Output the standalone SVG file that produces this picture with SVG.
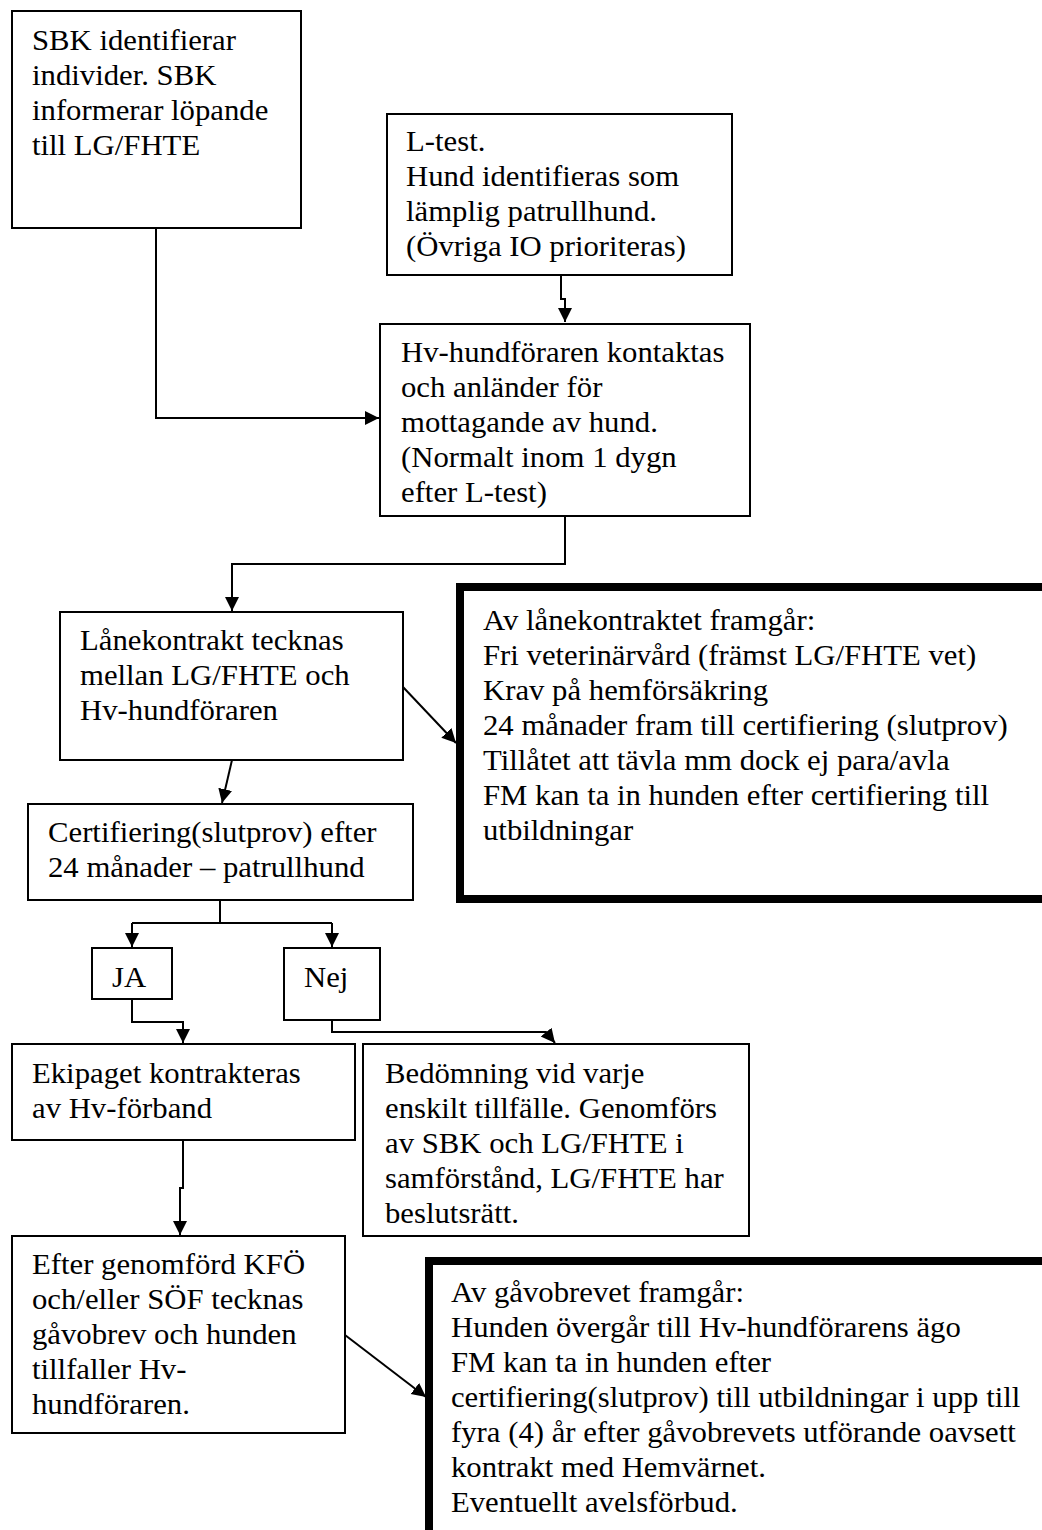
<svg xmlns="http://www.w3.org/2000/svg" width="1042" height="1530" viewBox="0 0 1042 1530">
<style>
  .box { fill: #ffffff; stroke: #000000; stroke-width: 2; }
  .thick { fill: #ffffff; stroke: #000000; stroke-width: 8; }
  .conn { fill: none; stroke: #000000; stroke-width: 2; }
  text { font-family: "Liberation Serif", "Times New Roman", serif; font-size: 29px; fill: #000000; }
</style>
<defs>
  <marker id="arr" markerUnits="userSpaceOnUse" markerWidth="15" markerHeight="15" refX="14" refY="7" orient="auto">
    <path d="M0,0 L14,7 L0,14 Z" fill="#000000"/>
  </marker>
</defs>
<rect width="1042" height="1530" fill="#ffffff"/>

<g id="connectors">
  <path class="conn" d="M156,228 V418 H379" marker-end="url(#arr)"/>
  <path class="conn" d="M561,275 V299 H565 V322" marker-end="url(#arr)"/>
  <path class="conn" d="M565,516 V564 H232 V611" marker-end="url(#arr)"/>
  <path class="conn" d="M403,687 L456,743" marker-end="url(#arr)"/>
  <path class="conn" d="M232,760 L222,803" marker-end="url(#arr)"/>
  <path class="conn" d="M220,900 V923"/>
  <path class="conn" d="M132,923 H332"/>
  <path class="conn" d="M132,923 V947" marker-end="url(#arr)"/>
  <path class="conn" d="M332,923 V947" marker-end="url(#arr)"/>
  <path class="conn" d="M132,999 V1022 H183 V1043" marker-end="url(#arr)"/>
  <path class="conn" d="M332,1020 V1032 H546 L555,1043" marker-end="url(#arr)"/>
  <path class="conn" d="M183,1140 V1188 H180 V1235" marker-end="url(#arr)"/>
  <path class="conn" d="M345,1335 L426,1397" marker-end="url(#arr)"/>
</g>

<g id="n1">
  <rect class="box" x="12" y="11" width="289" height="217"/>
  <g transform="scale(1.06 1)">
    <text x="30.19" y="50">SBK identifierar</text>
    <text x="30.19" y="85">individer. SBK</text>
    <text x="30.19" y="120">informerar löpande</text>
    <text x="30.19" y="155">till LG/FHTE</text>
  </g>
</g>

<g id="n2">
  <rect class="box" x="387" y="114" width="345" height="161"/>
  <g transform="scale(1.06 1)">
    <text x="383.02" y="151">L-test.</text>
    <text x="383.02" y="186">Hund identifieras som</text>
    <text x="383.02" y="221">lämplig patrullhund.</text>
    <text x="383.02" y="256">(Övriga IO prioriteras)</text>
  </g>
</g>

<g id="n3">
  <rect class="box" x="380" y="324" width="370" height="192"/>
  <g transform="scale(1.06 1)">
    <text x="378.3" y="362">Hv-hundföraren kontaktas</text>
    <text x="378.3" y="397">och anländer för</text>
    <text x="378.3" y="432">mottagande av hund.</text>
    <text x="378.3" y="467">(Normalt inom 1 dygn</text>
    <text x="378.3" y="502">efter L-test)</text>
  </g>
</g>

<g id="n4">
  <rect class="box" x="60" y="612" width="343" height="148"/>
  <g transform="scale(1.06 1)">
    <text x="75.47" y="650">Lånekontrakt tecknas</text>
    <text x="75.47" y="685">mellan LG/FHTE och</text>
    <text x="75.47" y="720">Hv-hundföraren</text>
  </g>
</g>

<g id="n10">
  <rect class="thick" x="460" y="587" width="600" height="312"/>
  <g transform="scale(1.06 1)">
    <text x="455.66" y="630">Av lånekontraktet framgår:</text>
    <text x="455.66" y="665">Fri veterinärvård (främst LG/FHTE vet)</text>
    <text x="455.66" y="700">Krav på hemförsäkring</text>
    <text x="455.66" y="735">24 månader fram till certifiering (slutprov)</text>
    <text x="455.66" y="770">Tillåtet att tävla mm dock ej para/avla</text>
    <text x="455.66" y="805">FM kan ta in hunden efter certifiering till</text>
    <text x="455.66" y="840">utbildningar</text>
  </g>
</g>

<g id="n5">
  <rect class="box" x="28" y="804" width="385" height="96"/>
  <g transform="scale(1.06 1)">
    <text x="45.28" y="842">Certifiering(slutprov) efter</text>
    <text x="45.28" y="877">24 månader – patrullhund</text>
  </g>
</g>

<g id="n-ja">
  <rect class="box" x="92" y="948" width="80" height="51"/>
  <g transform="scale(1.06 1)">
    <text x="105.66" y="987">JA</text>
  </g>
</g>

<g id="n-nej">
  <rect class="box" x="284" y="948" width="96" height="72"/>
  <g transform="scale(1.06 1)">
    <text x="286.79" y="987">Nej</text>
  </g>
</g>

<g id="n6">
  <rect class="box" x="12" y="1044" width="343" height="96"/>
  <g transform="scale(1.06 1)">
    <text x="30.19" y="1083">Ekipaget kontrakteras</text>
    <text x="30.19" y="1118">av Hv-förband</text>
  </g>
</g>

<g id="n7">
  <rect class="box" x="363" y="1044" width="386" height="192"/>
  <g transform="scale(1.06 1)">
    <text x="363.21" y="1083">Bedömning vid varje</text>
    <text x="363.21" y="1118">enskilt tillfälle. Genomförs</text>
    <text x="363.21" y="1153">av SBK och LG/FHTE i</text>
    <text x="363.21" y="1188">samförstånd, LG/FHTE har</text>
    <text x="363.21" y="1223">beslutsrätt.</text>
  </g>
</g>

<g id="n8">
  <rect class="box" x="12" y="1236" width="333" height="197"/>
  <g transform="scale(1.06 1)">
    <text x="30.19" y="1274">Efter genomförd KFÖ</text>
    <text x="30.19" y="1309">och/eller SÖF tecknas</text>
    <text x="30.19" y="1344">gåvobrev och hunden</text>
    <text x="30.19" y="1379">tillfaller Hv-</text>
    <text x="30.19" y="1414">hundföraren.</text>
  </g>
</g>

<g id="n9">
  <rect class="thick" x="429" y="1261" width="650" height="320"/>
  <g transform="scale(1.06 1)">
    <text x="425.47" y="1302">Av gåvobrevet framgår:</text>
    <text x="425.47" y="1337">Hunden övergår till Hv-hundförarens ägo</text>
    <text x="425.47" y="1372">FM kan ta in hunden efter</text>
    <text x="425.47" y="1407">certifiering(slutprov) till utbildningar i upp till</text>
    <text x="425.47" y="1442">fyra (4) år efter gåvobrevets utförande oavsett</text>
    <text x="425.47" y="1477">kontrakt med Hemvärnet.</text>
    <text x="425.47" y="1512">Eventuellt avelsförbud.</text>
  </g>
</g>
</svg>
